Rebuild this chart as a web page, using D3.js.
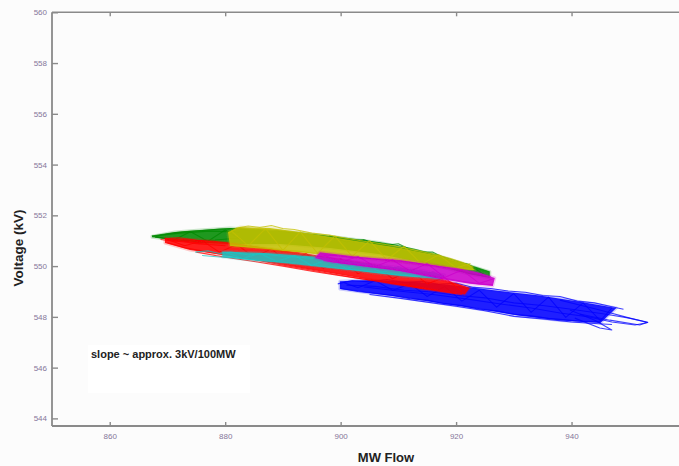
<!DOCTYPE html>
<html>
<head>
<meta charset="utf-8">
<script src="https://cdn.jsdelivr.net/npm/d3@7"></script>
<style>
  html, body { margin: 0; padding: 0; background: #fcfcfc; }
  svg { display: block; overflow: hidden; }
</style>
</head>
<body>
<svg id="chart" width="679" height="466"></svg>
<script>
// Axis ticks
const xTicks = [860, 880, 900, 920, 940];
const yTicks = [544, 546, 548, 550, 552, 554, 556, 558, 560];

// Each run: dense core outline plus loose trajectory traces, [MW, kV]
const blueCore = [[899.87,549.40],[905,549.45],[913.72,549.36],[920.65,549.22],[927.58,549.02],[934.50,548.84],[941.43,548.60],[947.76,548.35],
  [945,547.76],[938,547.86],[931.04,548.04],[924.11,548.30],[917.19,548.54],[910.26,548.78],[905,548.94],[899.87,549.10]];
const blueTraces = [
  [[899.5,549.30],[902,549.43],[905,549.38],[908,549.47],[911,549.36],[914,549.40],[917,549.28],[920,549.33],[923,549.16],[926,549.12],[929,549.02],[932,548.97],[935,548.84],[938,548.80],[941,548.62],[944,548.55],[947,548.40],[949,548.30]],
  [[900,549.12],[903,549.00],[906,548.92],[909,548.84],[912,548.72],[915,548.66],[918,548.52],[921,548.45],[924,548.30],[927,548.24],[930,548.10],[933,548.04],[936,547.94],[939,547.88],[942,547.82],[945,547.80]],
  [[901,549.25],[906,549.20],[911,549.05],[916,548.98],[920,548.85],[925,548.75],[930,548.55],[935,548.45],[940,548.30],[946,548.10],[950,547.95],[953.2,547.78],[951,547.68],[947,547.80],[943,548.00],[938,548.15],[933,548.35],[928,548.50],[922,548.70],[916,548.88],[910,549.02],[904,549.18]],
  [[900.5,549.35],[903,549.15],[906,549.42],[909,549.05],[912,549.30],[915,548.80],[918,549.20],[921,548.62],[924,549.05],[927,548.38],[930,548.92],[933,548.18],[936,548.78],[939,547.98],[942,548.55],[945,547.85],[947,548.35]],
  [[905,548.88],[910,548.74],[915,548.58],[920,548.42],[925,548.24],[930,548.02],[935,547.92],[940,547.80],[944,547.74],[947,547.70]],
  [[937.97,548.66],[944.89,548.27],[950.09,547.95],[953.20,547.79],[951.82,547.68],[946.62,547.87],[941.43,548.11]],
  [[939.70,548.27],[944.03,547.87],[946.97,547.48],[944.89,547.56],[940.56,547.95]]
];

const greenCore = [[867.32,551.18],[871.30,551.34],[875.63,551.42],[880.82,551.50],[889.48,551.38],[898.14,551.18],[906.80,550.93],[915.45,550.50],[922.38,550.02],[925.84,549.78],
  [925.84,549.53],[922.38,549.68],[915.45,550.08],[906.80,550.47],[898.14,550.71],[889.48,550.87],[880.82,550.87],[875.63,550.91],[871.30,551.03],[867.32,551.14]];
const greenTraces = [
  [[867.3,551.18],[870,551.28],[873,551.36],[876,551.40],[879,551.46],[882,551.48],[885,551.45],[889,551.40],[893,551.30],[897,551.20],[901,551.10],[905,550.98],[909,550.85],[913,550.65],[917,550.42],[920,550.20],[923,549.98],[925.8,549.78]],
  [[867.32,551.18],[872.16,551.30],[877.36,551.38],[882.55,551.34]],
  [[867.84,551.14],[873.03,550.99],[878.23,551.03],[882.55,551.11]],
  [[915,550.18],[919,549.92],[922,549.72],[925.8,549.56]],
  [[898,551.20],[901,550.95],[904,551.05],[907,550.80],[910,550.88],[913,550.55],[916,550.55],[919,550.20],[922,550.08],[925,549.65]],
  [[868,551.16],[871,551.02],[874,551.35],[877,550.98],[880,551.42],[883,551.00]]
];

const redCore = [[869.57,551.11],[875.63,551.03],[882.55,550.87],[889.48,550.63],[898.14,550.32],[906.80,550.00],[915.45,549.61],[922.38,549.14],
  [921.52,548.88],[913.72,549.12],[905.07,549.46],[896.41,549.80],[887.75,550.14],[880.82,550.40],[873.90,550.63],[869.57,550.91]];
const redTraces = [
  [[869.5,551.08],[872,551.12],[875,551.02],[878,550.98],[881,550.90],[884,550.80],[887,550.70],[890,550.60],[893,550.52],[896,550.40],[899,550.30],[902,550.18],[905,550.08],[908,549.95],[911,549.82],[914,549.70],[917,549.52],[920,549.30],[922,549.15]],
  [[870,550.92],[873,550.72],[876,550.60],[879,550.48],[882,550.38],[885,550.26],[888,550.12],[891,550.00],[894,549.88],[897,549.76],[900,549.64],[903,549.52],[906,549.42],[909,549.30],[912,549.20],[915,549.08],[918,548.98],[921,548.88]],
  [[868.8,551.05],[871,550.98],[874,550.95],[877,550.85],[880,550.80],[875,550.88],[871,551.02]],
  [[870,551.05],[873,550.80],[876,551.00],[879,550.55],[882,550.85],[885,550.35],[888,550.68],[891,550.10],[894,550.50],[897,549.90],[900,550.30],[903,549.70],[906,550.05],[909,549.50],[912,549.85],[915,549.30],[918,549.55],[921,549.00]],
  [[875,550.55],[880,550.35],[885,550.18],[890,550.00],[895,549.80],[900,549.62],[905,549.45],[910,549.30],[915,549.12],[920,548.92]]
];

const yellowCore = [[880.48,551.34],[882.55,551.54],[887.75,551.50],[892.94,551.34],[901.60,551.03],[910.26,550.71],[917.19,550.40],[922.38,550.04],[923.25,549.85],
  [918.92,549.92],[910.26,550.16],[901.60,550.36],[892.94,550.55],[886.02,550.71],[880.82,550.79]];
const yellowTraces = [
  [[880.6,551.30],[882,551.50],[884,551.58],[886,551.52],[888,551.60],[890,551.48],[892,551.44],[895,551.30],[898,551.22],[901,551.10],[904,550.98],[907,550.88],[910,550.76],[913,550.62],[916,550.48],[919,550.30],[921,550.15],[923,549.95]],
  [[881,550.82],[884,550.75],[887,550.70],[890,550.62],[893,550.58],[896,550.48],[899,550.42],[902,550.35],[905,550.28],[908,550.22],[911,550.12],[914,550.05],[917,549.98],[920,549.90],[923,549.86]],
  [[881,551.40],[884,550.80],[887,551.48],[890,550.62],[893,551.35],[896,550.50],[899,551.18],[902,550.38],[905,551.00],[908,550.25],[911,550.78],[914,550.08],[917,550.45],[920,549.92],[922.5,550.10]]
];

const cyanCore = [[879.5,550.58],[887.75,550.51],[896.41,550.36],[905.07,550.08],[913.72,549.85],[918.05,549.65],
  [917.19,549.49],[910.26,549.61],[901.60,549.85],[892.94,550.08],[884.29,550.24],[879.5,550.36]];
const cyanTraces = [
  [[874.8,550.55],[877,550.60],[879,550.50],[881,550.55],[884,550.45],[887,550.48],[890,550.38],[893,550.35],[896,550.28],[899,550.20],[902,550.12],[905,550.02],[908,549.95],[911,549.85],[914,549.75],[917,549.60]],
  [[876,550.42],[879,550.36],[882,550.32],[886,550.22],[890,550.14],[894,550.05],[898,549.95],[902,549.86],[906,549.76],[910,549.66],[914,549.58],[917.5,549.52]],
  [[880,550.55],[883,550.30],[886,550.50],[889,550.18],[892,550.42],[895,550.02],[898,550.28],[901,549.90],[904,550.12],[907,549.75],[910,549.98],[913,549.62],[916,549.78],[918,549.55]]
];

const magentaCore = [[896.41,550.55],[903.33,550.36],[910.26,550.24],[917.19,550.00],[924.11,549.73],[926.71,549.53],
  [926.36,549.22],[922.38,549.30],[917.19,549.49],[910.26,549.81],[903.33,550.00],[898.14,550.16],[895.54,550.32]];
const magentaTraces = [
  [[896,550.45],[899,550.42],[902,550.35],[905,550.30],[908,550.22],[911,550.18],[914,550.08],[917,549.98],[920,549.90],[923,549.78],[926,549.58]],
  [[897,550.22],[900,550.12],[903,550.05],[906,549.96],[909,549.88],[912,549.76],[915,549.65],[918,549.52],[921,549.40],[924,549.30],[926.4,549.26]],
  [[897,550.45],[900,550.15],[903,550.38],[906,549.98],[909,550.25],[912,549.80],[915,550.10],[918,549.55],[921,549.85],[924,549.32],[926.5,549.50]]
];

const runs = [
  { core: blueCore, traces: blueTraces, color: "#0000ff" },
  { core: greenCore, traces: greenTraces, color: "#078a07" },
  { core: redCore, traces: redTraces, color: "#ff0000" },
  { core: yellowCore, traces: yellowTraces, color: "#c4c000" },
  { core: cyanCore, traces: cyanTraces, color: "#1cc4c4" },
  { core: magentaCore, traces: magentaTraces, color: "#cc00cc" }
];

const svg = d3.select("#chart");
const x = d3.scaleLinear().domain([850, 960]).range([52, 687]);
const y = d3.scaleLinear().domain([543.7, 560]).range([426, 12.3]);

const defs = svg.append("defs");
defs.append("filter").attr("id", "soft")
  .append("feGaussianBlur").attr("stdDeviation", 0.6);

// annotation backdrop
svg.append("rect").attr("x", 88).attr("y", 345).attr("width", 162).attr("height", 48).attr("fill", "#ffffff");

const line = d3.line().x(d => x(d[0])).y(d => y(d[1]));
const closed = d3.line().x(d => x(d[0])).y(d => y(d[1])).curve(d3.curveLinearClosed);

const marks = svg.append("g").attr("filter", "url(#soft)");
runs.forEach(r => {
  marks.append("path").attr("d", closed(r.core))
    .attr("fill", r.color).attr("fill-opacity", 0.88)
    .attr("stroke", r.color).attr("stroke-width", 3).attr("stroke-opacity", 0.2)
    .attr("stroke-linejoin", "round");
  r.traces.forEach(t => {
    marks.append("path").attr("d", line(t))
      .attr("fill", "none").attr("stroke", r.color).attr("stroke-width", 1.1).attr("stroke-opacity", 0.75)
      .attr("stroke-linejoin", "round");
  });
});

// axes
const axisColor = "#8a8a8a";
const labelColor = "#85769a";
const bottomAxis = svg.append("g").attr("transform", "translate(0,426)")
  .call(d3.axisBottom(x).tickValues(xTicks).tickSize(-4).tickPadding(7).tickFormat(d3.format("d")));
const topAxis = svg.append("g").attr("transform", "translate(0,12.3)")
  .call(d3.axisTop(x).tickValues(xTicks).tickSize(-4).tickFormat(""));
const leftAxis = svg.append("g").attr("transform", "translate(52,0)")
  .call(d3.axisLeft(y).tickValues(yTicks).tickSize(-6).tickPadding(5).tickFormat(d3.format("d")));

[bottomAxis, topAxis, leftAxis].forEach(g => {
  g.select(".domain").remove();
  g.selectAll(".tick line").attr("stroke", axisColor).attr("stroke-width", 1.4);
  g.selectAll(".tick text").attr("fill", labelColor)
    .style("font-family", "Liberation Sans, Arial, sans-serif").style("font-size", "8px");
});
svg.append("line").attr("x1", 52).attr("x2", 679).attr("y1", 426).attr("y2", 426).attr("stroke", axisColor).attr("stroke-width", 1.8);
svg.append("line").attr("x1", 52).attr("x2", 679).attr("y1", 12.3).attr("y2", 12.3).attr("stroke", axisColor).attr("stroke-width", 1.6);
svg.append("line").attr("x1", 52).attr("x2", 52).attr("y1", 12.3).attr("y2", 426).attr("stroke", axisColor).attr("stroke-width", 1.8);

// titles
svg.append("text").attr("x", 386).attr("y", 462).attr("text-anchor", "middle")
  .style("font-family", "Liberation Sans, Arial, sans-serif").style("font-size", "13px").style("font-weight", "bold")
  .attr("fill", "#222").text("MW Flow");
svg.append("text").attr("transform", "translate(23,248) rotate(-90)").attr("text-anchor", "middle")
  .style("font-family", "Liberation Sans, Arial, sans-serif").style("font-size", "13.5px").style("font-weight", "bold")
  .attr("fill", "#222").text("Voltage (kV)");
svg.append("text").attr("x", 91).attr("y", 358)
  .style("font-family", "Liberation Sans, Arial, sans-serif").style("font-size", "11px").style("font-weight", "bold")
  .attr("fill", "#222").text("slope ~ approx. 3kV/100MW");
</script>
</body>
</html>
